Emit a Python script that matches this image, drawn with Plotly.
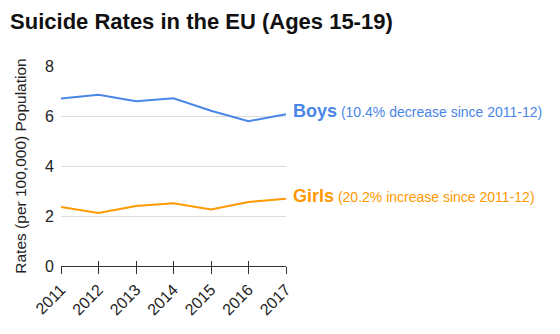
import plotly.graph_objects as go

years = [2011, 2012, 2013, 2014, 2015, 2016, 2017]
boys = [6.70, 6.85, 6.59, 6.71, 6.21, 5.79, 6.07]
girls = [2.36, 2.12, 2.40, 2.51, 2.26, 2.56, 2.69]
y_ticks = [0, 2, 4, 6, 8]

BLUE = "#4A86E8"
ORANGE = "#FF9900"
FONT = "Liberation Sans, Arial, sans-serif"

fig = go.Figure()
fig.add_trace(go.Scatter(x=years, y=boys, mode="lines", line=dict(color=BLUE, width=2),
                         name="Boys", hoverinfo="x+y"))
fig.add_trace(go.Scatter(x=years, y=girls, mode="lines", line=dict(color=ORANGE, width=2),
                         name="Girls", hoverinfo="x+y"))
# invisible trace that carries the inside half of the x ticks
fig.add_trace(go.Scatter(x=years, y=girls, mode="lines", line=dict(width=0),
                         xaxis="x2", showlegend=False, hoverinfo="skip"))

labels = [
    (boys[-1], BLUE, "Boys", "(10.4% decrease since 2011-12)"),
    (girls[-1], ORANGE, "Girls", "(20.2% increase since 2011-12)"),
]
for yv, col, name, note in labels:
    fig.add_annotation(
        x=years[-1], y=yv, xref="x", yref="y", xanchor="left", yanchor="middle",
        xshift=5, yshift=3, showarrow=False,
        text=f"<span style='font-size:18px;font-weight:bold'>{name}</span> {note}",
        font=dict(family=FONT, size=14, color=col),
    )

fig.update_layout(
    width=560, height=334,
    margin=dict(l=61, r=274, t=66, b=68),
    paper_bgcolor="white", plot_bgcolor="white",
    showlegend=False,
    font=dict(family=FONT, size=15, color="#222222"),
    title=dict(text="<b>Suicide Rates in the EU (Ages 15-19)</b>",
               x=0.018, xanchor="left", y=0.935, yanchor="middle",
               font=dict(family=FONT, size=22, color="#111111")),
    xaxis=dict(range=[years[0], years[-1]], tickvals=years, ticktext=[str(y) for y in years],
               tickangle=-45, ticks="outside", ticklen=7, tickwidth=1.3, tickcolor="#333333",
               showgrid=False, showline=True, linecolor="#333333", linewidth=1.3,
               zeroline=False, tickfont=dict(size=16), fixedrange=True),
    xaxis2=dict(range=[years[0], years[-1]], tickvals=years, showticklabels=False,
                ticks="inside", ticklen=5, tickwidth=1.3, tickcolor="#333333",
                overlaying="x", side="bottom", showgrid=False, showline=False,
                zeroline=False, anchor="y"),
    yaxis=dict(range=[0, 8], tickvals=y_ticks, showgrid=True, gridcolor="#DDDDDD",
               gridwidth=1, zeroline=False, showline=False, ticks="",
               ticklabelstandoff=6, tickfont=dict(size=16),
               title=dict(text="Rates (per 100,000) Population", font=dict(size=15.5),
                          standoff=14), fixedrange=True),
)

fig.write_html("out.html")
